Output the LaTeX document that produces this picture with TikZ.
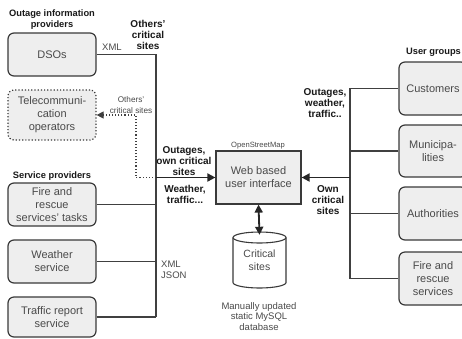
\documentclass[tikz,border=0pt]{standalone}
\usepackage{fontspec}
\setmainfont{Liberation Sans}
\usetikzlibrary{arrows.meta,calc}
\definecolor{boxfill}{HTML}{EEEEEE}
\definecolor{boxline}{HTML}{3A3A3A}
\definecolor{linecol}{HTML}{404040}
\definecolor{boxtext}{HTML}{4A4A4A}
\begin{document}
\begin{tikzpicture}[x=1pt,y=-1pt,
  prov/.style={draw=boxline, fill=boxfill, rounded corners=6pt, line width=1.2pt,
    minimum width=88pt, minimum height=43pt, align=center, text=boxtext,
    font=\fontsize{11}{13}\selectfont, inner sep=0pt},
  usr/.style={prov, minimum width=68pt, minimum height=53pt},
  webbox/.style={draw=boxline, fill=boxfill, line width=1.2pt, minimum width=85pt,
    minimum height=53pt, align=center, text=boxtext, font=\fontsize{11}{13}\selectfont, inner sep=0pt},
  conn/.style={draw=linecol, line width=1.2pt},
  bigarrow/.style={draw=black!85, line width=1.8pt, -{Triangle[length=8pt,width=8pt]}},
  dotarrow/.style={draw=linecol, line width=1.1pt, dotted, -{Triangle[length=7pt,width=7pt]}},
  lab/.style={font=\fontsize{10}{11}\selectfont\bfseries, align=center, inner sep=0pt, text=black!90},
  hdr/.style={font=\fontsize{9.3}{11}\selectfont\bfseries, align=center, inner sep=0pt, text=black!90},
  small/.style={font=\fontsize{9.5}{10.5}\selectfont, align=center, inner sep=0pt, text=boxtext},
  tiny/.style={font=\fontsize{8.2}{11}\selectfont, align=center, inner sep=0pt, text=boxtext},
  dbshape/.style={minimum width=58pt, minimum height=62pt, inner sep=0pt, align=center,
    text=boxtext, font=\fontsize{10.5}{12.5}\selectfont,
    path picture={
      \path[draw=boxline, fill=white, line width=1.1pt]
        ([shift={(-26.5pt,22.5pt)}]path picture bounding box.center) --
        ([shift={(-26.5pt,-22.5pt)}]path picture bounding box.center)
        arc[start angle=180, end angle=360, x radius=26.5pt, y radius=5.5pt] --
        ([shift={(26.5pt,22.5pt)}]path picture bounding box.center)
        arc[start angle=0, end angle=180, x radius=26.5pt, y radius=5.5pt] -- cycle;
      \draw[boxline, line width=1.1pt]
        ([shift={(-26.5pt,22.5pt)}]path picture bounding box.center)
        arc[start angle=180, end angle=360, x radius=26.5pt, y radius=5.5pt];
    }}
]
\clip (0,0) rectangle (462,338);
\fill[white] (0,0) rectangle (462,338);

% left boxes
\node[prov] (dso) at (52,54.5) {DSOs};
\node[prov, dotted, minimum height=50pt] (tel) at (52,115) {Telecommuni-\\cation\\operators};
\node[prov] (fire) at (52,204.5) {Fire and\\rescue\\services' tasks};
\node[prov] (weather) at (52,261.5) {Weather\\service};
\node[prov, minimum height=40pt] (traffic) at (52,317) {Traffic report\\service};

% right boxes
\node[usr] (cust) at (433,88.5) {Customers};
\node[usr, minimum height=52pt] (muni) at (433,151) {Municipa-\\lities};
\node[usr] (auth) at (433,213.5) {Authorities};
\node[usr] (frs) at (433,278.5) {Fire and\\rescue\\services};

% center
\node[webbox] (web) at (258.5,177.5) {Web based\\user interface};
\node[dbshape] (db) at (259.5,260) {Critical\\sites};

% headers
\node[hdr] (h1) at (52,20) {Outage information\\providers};
\node[hdr] (h2) at (52,176) {Service providers};
\node[hdr] (h3) at (433.5,52) {User groups};

% junction coordinates
\coordinate (jl) at (156,317);
\coordinate (jm) at (156,177.5);
\coordinate (jd) at (136,115);
\coordinate (jr) at (350,278.5);
\coordinate (jra) at (350,177.5);

% left connectors
\draw[conn] (dso.east) -| (jl);
\draw[conn] (traffic.east) -- (jl);
\draw[conn] (fire.east) -- (fire.east -| jl);
\draw[conn] (weather.east) -- (weather.east -| jl);
\draw[dotarrow] (jm) -| (jd) -- (tel.east);
\draw[bigarrow] (jm) -- (web.west);

% right connectors
\draw[conn] (cust.west) -| (jr);
\draw[conn] (frs.west) -- (jr);
\draw[conn] (muni.west) -- (muni.west -| jr);
\draw[conn] (auth.west) -- (auth.west -| jr);
\draw[bigarrow] (jra) -- (web.east);

% database link
\draw[bigarrow, {Triangle[length=8pt,width=8pt]}-{Triangle[length=8pt,width=8pt]}] (web.south) -- ($(db.north)+(0,6)$);

% labels
\node[lab] (l1) at (148,35) {Others'\\critical\\sites};
\node[small, font=\fontsize{9.5}{11}\selectfont] (l2) at (112,47) {XML};
\node[tiny] (l3) at (131,105.5) {Others'\\critical sites};
\node[lab] (l4) at (184,161) {Outages,\\own critical\\sites};
\node[lab] (l5) at (185,194.5) {Weather,\\traffic...};
\node[tiny, font=\fontsize{7.6}{9}\selectfont] (l6) at (258,146) {OpenStreetMap};
\node[small, align=left, anchor=west, font=\fontsize{9.5}{10.5}\selectfont] (l7) at (161,270) {XML\\JSON};
\node[lab] (l8) at (325,103) {Outages,\\weather,\\traffic..};
\node[lab] (l9) at (328,200.5) {Own\\critical\\sites};
\node[small] (l10) at (259,316.5) {Manually updated\\static MySQL\\database};
\end{tikzpicture}
\end{document}
